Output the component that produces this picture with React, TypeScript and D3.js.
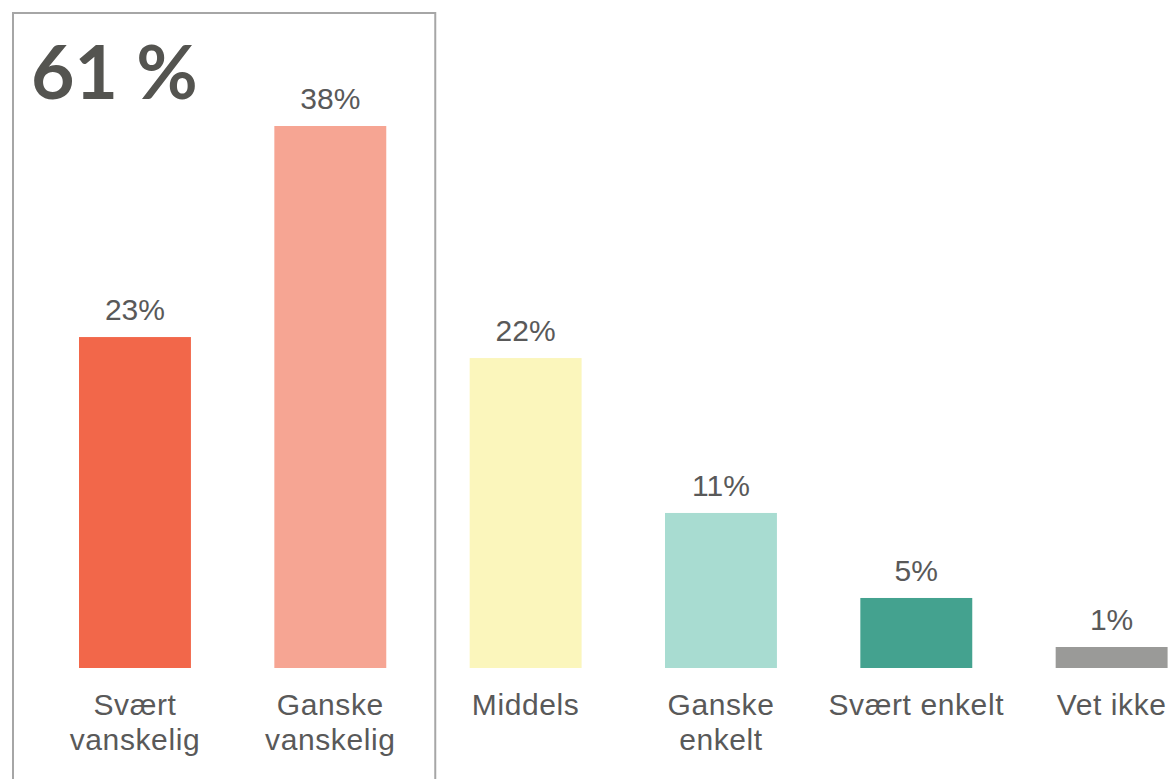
import React from "react";
import * as d3 from "d3";

const categories: string[][] = [
  ["Svært", "vanskelig"],
  ["Ganske", "vanskelig"],
  ["Middels"],
  ["Ganske", "enkelt"],
  ["Svært enkelt"],
  ["Vet ikke"],
];
const values: number[] = [23.16, 37.93, 21.69, 10.85, 4.9, 1.47];
const valueLabels: string[] = ["23%", "38%", "22%", "11%", "5%", "1%"];
const colors: string[] = ["#F2674A", "#F6A593", "#FBF6BC", "#A8DCD1", "#44A28F", "#9A9A98"];
const highlightText = "61 %";

const W = 1174;
const H = 779;
const baseline = 668;
const topY = 126;
const textColor = "#595959";

export default function App() {
  const ids = categories.map((_, i) => String(i));
  const x = d3.scaleBand<string>().domain(ids).range([-4.4, 1251]).paddingInner(0.427).paddingOuter(0.427);
  const y = d3.scaleLinear().domain([0, 37.93]).range([baseline, topY]);

  const boxX0 = x("0")! - 66;
  const boxX1 = x("1")! + x.bandwidth() + 49;

  return (
    <svg
      width={W}
      height={H}
      style={{ position: "absolute", left: 0, top: 0, display: "block", background: "#fff" }}
      fontFamily="'Liberation Sans', Arial, sans-serif"
    >
      <rect x={0} y={0} width={W} height={H} fill="#fff" />
      <path
        d={`M${boxX0},${H + 5} L${boxX0},13 L${boxX1},13 L${boxX1},${H + 5}`}
        fill="none"
        stroke="#A6A6A6"
        strokeWidth={2}
      />
      <text x={31} y={99} fontFamily="Lato, 'DejaVu Sans', sans-serif" fontWeight={700} fontSize={75} fill="#545450">
        {highlightText}
      </text>
      {values.map((v, i) => {
        const id = String(i);
        const bx = x(id)!;
        const cx = bx + x.bandwidth() / 2;
        return (
          <g key={id}>
            <rect x={bx} y={y(v)} width={x.bandwidth()} height={baseline - y(v)} fill={colors[i]} />
            <text x={cx} y={y(v) - 17} textAnchor="middle" fontSize={30} fill={textColor}>
              {valueLabels[i]}
            </text>
            {categories[i].map((line, j) => (
              <text
                key={j}
                x={cx}
                y={715 + j * 35}
                textAnchor="middle"
                fontSize={30}
                letterSpacing={0.6}
                fill={textColor}
              >
                {line}
              </text>
            ))}
          </g>
        );
      })}
    </svg>
  );
}
